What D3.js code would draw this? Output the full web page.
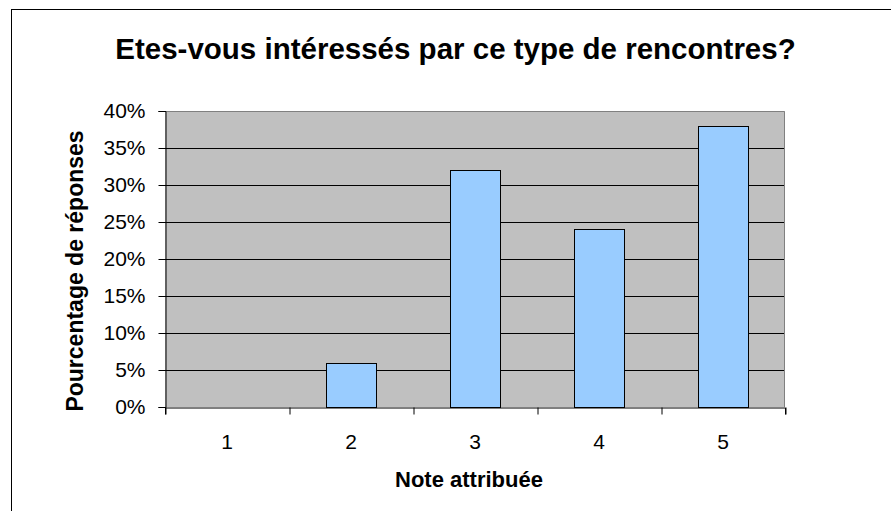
<!DOCTYPE html>
<html lang="fr">
<head>
    <meta charset="UTF-8">
    <title>Etes-vous intéressés par ce type de rencontres?</title>
    <script src="https://d3js.org/d3.v7.min.js"></script>
    <style>
        body {
            margin: 0;
            background: #fff;
        }
        svg {
            display: block;
            font-family: "Liberation Sans", Arial, sans-serif;
        }
    </style>
</head>
<body>
    <svg width="891" height="511"></svg>

    <script>
        const notes = ['1', '2', '3', '4', '5'];
        const percents = [0, 6, 32, 24, 38];
        const yTicks = [0, 5, 10, 15, 20, 25, 30, 35, 40];

        const width = 891;
        const height = 511;
        const plot = { left: 165, right: 785, top: 111, bottom: 407 };

        const svg = d3.select('svg');

        // outer frame
        svg.append('rect')
            .attr('x', 11.5)
            .attr('y', 9.5)
            .attr('width', width)
            .attr('height', height)
            .attr('fill', 'none')
            .attr('stroke', '#000')
            .attr('stroke-width', 1);

        svg.append('text')
            .attr('x', 455.5)
            .attr('y', 59)
            .attr('text-anchor', 'middle')
            .attr('font-size', '29.5px')
            .attr('font-weight', 'bold')
            .text('Etes-vous intéressés par ce type de rencontres?');

        const x = d3.scaleBand()
            .domain(notes)
            .range([plot.left, plot.right])
            .paddingInner(0.6)
            .paddingOuter(0.3);

        const xEdges = d3.scaleLinear()
            .domain([0, notes.length])
            .range([plot.left, plot.right]);

        const y = d3.scaleLinear()
            .domain([0, 40])
            .range([plot.bottom, plot.top]);

        // plot background
        svg.append('rect')
            .attr('x', plot.left)
            .attr('y', plot.top)
            .attr('width', plot.right - plot.left)
            .attr('height', plot.bottom - plot.top)
            .attr('fill', '#c0c0c0');

        // grid
        svg.append('g')
            .selectAll('line')
            .data(yTicks.filter(d => d > 0 && d < 40))
            .enter().append('line')
            .attr('x1', plot.left)
            .attr('x2', plot.right)
            .attr('y1', d => Math.round(y(d)) + 0.5)
            .attr('y2', d => Math.round(y(d)) + 0.5)
            .attr('stroke', '#000')
            .attr('stroke-width', 1);

        // gray top and right border
        svg.append('path')
            .attr('d', `M${plot.left},${plot.top + 0.5}H${plot.right - 0.5}V${plot.bottom}`)
            .attr('fill', 'none')
            .attr('stroke', '#808080')
            .attr('stroke-width', 1);

        svg.append('g')
            .selectAll('rect')
            .data(percents)
            .enter().append('rect')
            .attr('x', (d, i) => Math.round(x(notes[i])) + 0.5)
            .attr('y', d => Math.round(y(d)) + 0.5)
            .attr('width', Math.round(x.bandwidth()))
            .attr('height', d => Math.round(y(0)) - Math.round(y(d)))
            .attr('fill', '#99ccff')
            .attr('stroke', '#000')
            .attr('stroke-width', 1)
            .style('display', d => d > 0 ? null : 'none');

        // y axis
        const yAxis = svg.append('g')
            .attr('transform', `translate(${plot.left + 0.5},0)`)
            .call(d3.axisLeft(y).tickValues(yTicks).tickSize(7).tickPadding(13).tickFormat(d => d + '%'));
        yAxis.selectAll('text')
            .attr('font-size', '21px')
            .attr('font-family', '"Liberation Sans", Arial, sans-serif')
            .attr('fill', '#000');

        // x axis: ticks between categories, labels centered
        const xAxis = svg.append('g')
            .attr('transform', `translate(0,${plot.bottom + 0.5})`)
            .call(d3.axisBottom(xEdges).tickValues(d3.range(notes.length + 1)).tickSize(7).tickFormat(''));
        xAxis.selectAll('.tick line').attr('transform', 'translate(0.5,0)');

        svg.append('g')
            .selectAll('text')
            .data(notes)
            .enter().append('text')
            .attr('x', d => x(d) + x.bandwidth() / 2)
            .attr('y', 449)
            .attr('text-anchor', 'middle')
            .attr('font-size', '21px')
            .text(d => d);

        svg.selectAll('.domain, .tick line').attr('stroke', '#000');

        svg.append('text')
            .attr('x', 469)
            .attr('y', 487)
            .attr('text-anchor', 'middle')
            .attr('font-size', '22px')
            .attr('font-weight', 'bold')
            .text('Note attribuée');

        svg.append('text')
            .attr('transform', 'translate(83,271) rotate(-90)')
            .attr('text-anchor', 'middle')
            .attr('font-size', '23px')
            .attr('font-weight', 'bold')
            .text('Pourcentage de réponses');
    </script>
</body>
</html>
